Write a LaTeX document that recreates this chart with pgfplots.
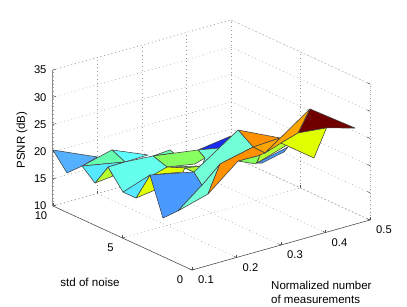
\documentclass[border=0pt]{standalone}
\usepackage{fontspec}
\setmainfont{Liberation Sans}
\usepackage{pgfplots}
\pgfplotsset{compat=1.18}
\definecolor{dkb}{HTML}{1A2CF0}
\definecolor{bl}{HTML}{4A99FF}
\definecolor{bl1}{HTML}{55B0FF}
\definecolor{cy}{HTML}{60FFFF}
\definecolor{cy2}{HTML}{55E8FF}
\definecolor{cy3}{HTML}{66FFEE}
\definecolor{aq}{HTML}{72FFD8}
\definecolor{gq}{HTML}{66FFB0}
\definecolor{gr}{HTML}{88FF60}
\definecolor{li}{HTML}{B5FF30}
\definecolor{ye}{HTML}{E0FF00}
\definecolor{or}{HTML}{FF9000}
\definecolor{or2}{HTML}{FFA500}
\definecolor{dr}{HTML}{700000}
\pgfplotsset{
  facet/.style={fill=#1,draw=black!75,line width=0.55pt,line join=round,mark=none,solid},
  edge/.style={no markers,solid,line width=0.55pt},
  dots/.style={no markers,black!40,line width=0.5pt,dash pattern=on 0.8pt off 3pt},
}
\begin{document}
\begin{tikzpicture}[x=1pt,y=1pt]
\begin{axis}[
  x={(445pt,125pt)}, y={(-13.9pt,6.4pt)}, z={(0pt,5.44pt)},
  xmin=0.1,xmax=0.5,ymin=0,ymax=10,zmin=10,zmax=35,
  xtick={0.1,0.2,0.3,0.4,0.5}, ytick={0,5,10}, ztick={10,15,20,25,30,35},
  xticklabels={0.1,0.2,0.3,0.4,0.5},
  grid=major, grid style={black!40,line width=0.5pt,dash pattern=on 0.8pt off 3pt},
  clip=false,
  axis line style={draw=none},
  tick pos=left,
  tick style={black!70,line width=0.5pt},
  major tick length=3pt,
  tick label style={font=\fontsize{11.2}{13}\selectfont},
  /pgf/number format/assume math mode=true,
  x tick label style={anchor=center,yshift=-10pt,xshift=14pt},
  y tick label style={anchor=center,xshift=-12pt,yshift=-10pt},
  z tick label style={anchor=east,xshift=-3pt},
  xlabel={}, ylabel={}, zlabel={},
]
% box
\addplot3[edge,black!70] coordinates {(0.1,0,10) (0.5,0,10)};
\addplot3[edge,black!70] coordinates {(0.1,0,10) (0.1,10,10)};
\addplot3[no markers,black!45,line width=1pt] coordinates {(0.1,10,10) (0.1,10,35)};
\addplot3[dots] coordinates {(0.1,10,35) (0.5,10,35) (0.5,0,35) (0.5,0,10)};
\addplot3[dots] coordinates {(0.5,10,10) (0.5,10,35)};
\addplot3[dots] coordinates {(0.1,10,10) (0.5,10,10) (0.5,0,10)};
% surface facets, back to front
\addplot3[facet=dkb] coordinates {(0.3,5.97,20.44) (0.3,3.6,25.81) (0.3,4.39,22.67) (0.3,5.97,20.44)};
\addplot3[facet=gq] coordinates {(0.3,9.21,15.53) (0.3,7.99,18.07) (0.3,7.7,17.85) (0.3,9.21,15.53)};
\addplot3[facet=aq] coordinates {(0.3,5.97,20.44) (0.3,4.39,22.67) (0.2,3.06,22.11) (0.3,5.68,17.83) (0.3,5.47,19.56) (0.3,5.97,20.44)};
\addplot3[facet=gr] coordinates {(0.3,9.21,15.53) (0.3,5.97,20.44) (0.3,5.47,19.56) (0.3,6.19,17.61) (0.2,5,20.75) (0.3,9.21,15.53)};
\addplot3[facet=gr] coordinates {(0.2,5,20.75) (0.3,5.68,17.83) (0.2,3.06,22.11) (0.2,3.71,22.1) (0.2,5,20.75)};
\addplot3[facet=li] coordinates {(0.2,3.71,22.1) (0.3,5.68,17.83) (0.2,3.06,22.11) (0.2,3.71,22.1)};
\addplot3[facet=ye] coordinates {(0.1,3.02,23.92) (0.15,4.22,21.9) (0.2,5,20.75) (0.2,3.71,22.1) (0.2,3.85,21.19) (0.1,3.02,23.92)};
\addplot3[facet=cy] coordinates {(0.2,8.96,19.23) (0.3,9.57,15.29) (0.2,8.02,18.13) (0.2,8.96,19.23)};
\addplot3[facet=gq] coordinates {(0.1,7.91,19.81) (0.2,8.96,19.23) (0.2,8.02,18.13) (0.1,7.91,19.81)};
\addplot3[facet=bl1] coordinates {(0.1,10,20.29) (0.1,8.99,17.26) (0.1,7.91,19.81) (0.2,10,16.71) (0.1,10,20.29)};
\addplot3[facet=li] coordinates {(0.1,6.98,17.78) (0.1,6.04,21.82) (0.1,5.68,20.59) (0.1,6.98,17.78)};
\addplot3[facet=cy2] coordinates {(0.1,7.91,19.81) (0.2,8.02,18.13) (0.1,6.04,21.82) (0.1,6.98,17.78) (0.1,7.91,19.81)};
\addplot3[facet=cy3] coordinates {(0.1,6.04,21.82) (0.2,8.02,18.13) (0.3,9.21,15.53) (0.2,5,20.75) (0.1,4.96,18.49) (0.1,6.04,21.82)};
\addplot3[facet=ye] coordinates {(0.1,4.03,18.49) (0.1,3.02,23.92) (0.15,4.26,18.54) (0.1,4.03,18.49)};
\addplot3[facet=cy2] coordinates {(0.1,4.96,18.49) (0.1,3.02,23.92) (0.1,4.03,18.49) (0.1,4.96,18.49)};
\addplot3[facet=bl] coordinates {(0.1,3.02,23.92) (0.2,3.06,22.11) (0.2,2.48,20.4) (0.1,1.01,19.67) (0.1,2.09,17.1) (0.1,3.02,23.92)};
\addplot3[facet=aq] coordinates {(0.1,1.01,19.67) (0.2,2.48,20.4) (0.2,1.19,25.79) (0.2,2.05,19.26) (0.1,1.01,19.67)};
\addplot3[facet=gr] coordinates {(0.3,3.09,21.8) (0.3,1.73,24.32) (0.3,1.51,24.76) (0.3,1.8,22.78) (0.3,3.09,21.8)};
\addplot3[facet=li] coordinates {(0.3,1.51,24.76) (0.4,3.06,23.77) (0.4,2.77,22.83) (0.3,1.73,23.03) (0.3,1.51,24.76)};
\addplot3[facet=bl] coordinates {(0.3,1.73,23.03) (0.4,2.7,22.54) (0.4,2.99,21.29) (0.3,1.37,23.46) (0.3,1.73,23.03)};
\addplot3[facet=or] coordinates {(0.3,3.09,27.5) (0.4,3.27,23.53) (0.3,2.01,25.64) (0.3,3.09,27.5)};
\addplot3[facet=or2] coordinates {(0.3,2.01,25.64) (0.4,3.27,23.53) (0.3,1.15,25.55) (0.3,2.01,25.64)};
\addplot3[facet=aq] coordinates {(0.3,3.09,27.5) (0.3,2.01,25.64) (0.2,1.19,25.79) (0.2,2.48,20.4) (0.2,3.06,22.11) (0.3,3.09,27.5)};
\addplot3[facet=or] coordinates {(0.2,1.19,25.79) (0.3,2.01,25.64) (0.3,1.15,25.55) (0.3,1.73,24.32) (0.3,3.09,21.8) (0.2,2.05,19.26) (0.2,1.19,25.79)};
\addplot3[facet=dr] coordinates {(0.4,1.12,31.4) (0.5,1.08,25.64) (0.5,3.13,23.24) (0.4,1.98,25.96) (0.4,1.12,31.4)};
\addplot3[facet=or2] coordinates {(0.3,1.15,25.55) (0.4,1.12,31.4) (0.4,1.98,25.96) (0.4,3.2,22.68) (0.3,1.15,25.55)};
\addplot3[facet=ye] coordinates {(0.4,3.2,22.68) (0.4,1.98,25.96) (0.5,3.13,23.24) (0.4,0.83,22.72) (0.4,3.2,22.68)};
\coordinate (P) at (axis cs:0.1,0,10);
\end{axis}
\pgfresetboundingbox
\path[use as bounding box] ([shift={(-192pt,-36pt)}]P) rectangle ([shift={(215pt,270pt)}]P);
\path ([shift={(-102pt,-12pt)}]P) node[font=\fontsize{11.6}{13}\selectfont,anchor=center] {std of noise};
\path ([shift={(79pt,-11pt)}]P) node[font=\fontsize{11.5}{13.5}\selectfont,anchor=north west,align=left,inner sep=0pt] {Normalized number\\of measurements};
\path ([shift={(-170pt,130pt)}]P) node[font=\fontsize{11.5}{13}\selectfont,rotate=90,anchor=center] {PSNR (dB)};
\end{tikzpicture}
\end{document}
